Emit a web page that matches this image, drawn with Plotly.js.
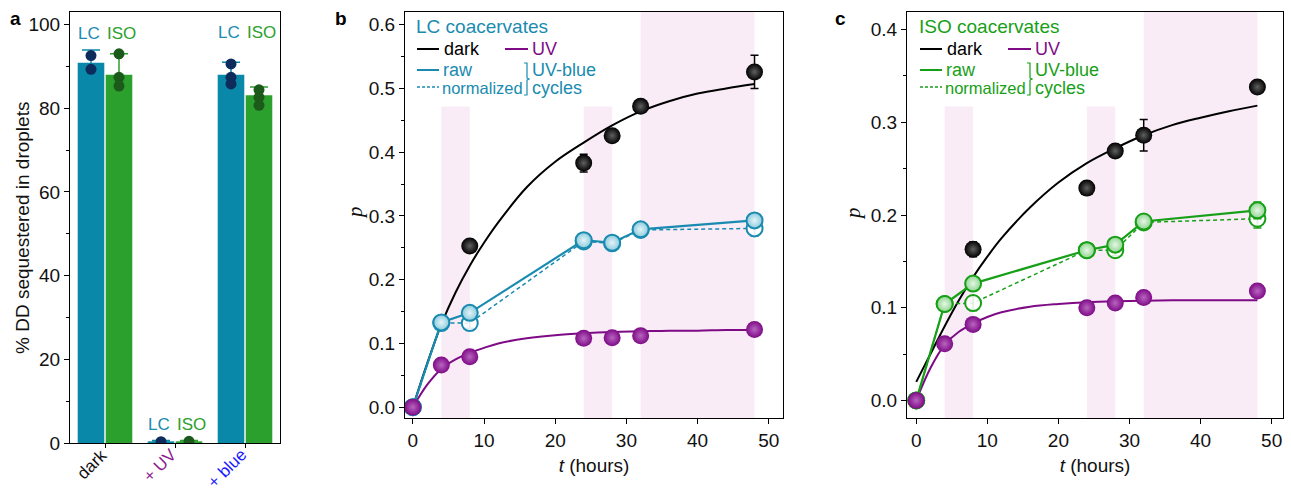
<!DOCTYPE html>
<html><head><meta charset="utf-8">
<script src="https://cdn.plot.ly/plotly-3.0.1.min.js"></script>
<style>body{margin:0;background:#fff}#chart{width:1291px;height:490px}</style>
</head><body><div id="chart"></div>
<script>
// ---------- Panel a data ----------
const conditions = ['dark', '+ UV', '+ blue'];
const lcPercent = [90.9, 0.4, 88.0];
const isoPercent = [88.0, 0.4, 83.1];
const lcPercentErr = [3.0, 0.2, 3.0];
const isoPercentErr = [5.0, 0.2, 2.0];
const lcReplicates = [[92.6, 89.3], [0.3], [90.6, 87.4, 85.8]];
const isoReplicates = [[93.0, 87.4, 85.3], [0.4], [84.4, 82.6, 80.7]];

// ---------- Panels b/c data ----------
const tPoints = [0, 4, 8, 24, 28, 32, 48];
const tDark = [8, 24, 28, 32, 48];
const cycleStarts = [4, 24, 32];
const cycleEnds = [8, 28, 48];

const lcDark = [0.253, 0.383, 0.426, 0.472, 0.526];
const lcDarkErr = [0.004, 0.014, 0.006, 0.005, 0.026];
const lcUV = [0, 0.066, 0.079, 0.108, 0.109, 0.112, 0.122];
const lcUVErr = [0.002, 0.003, 0.003, 0.003, 0.003, 0.003, 0.003];
const lcRaw = [0, 0.133, 0.148, 0.262, 0.258, 0.279, 0.293];
const lcRawErr = [0, 0.004, 0.006, 0.006, 0.006, 0.008, 0.008];
const lcNorm = [0, 0.132, 0.132, 0.260, 0.257, 0.278, 0.2805];
const lcNormErr = [0, 0.004, 0.008, 0.006, 0.006, 0.007, 0.012];

const isoDark = [0.163, 0.229, 0.269, 0.286, 0.338];
const isoDarkErr = [0.008, 0.003, 0.004, 0.017, 0.003];
const isoUV = [0, 0.061, 0.082, 0.100, 0.105, 0.111, 0.118];
const isoUVErr = [0.002, 0.003, 0.003, 0.003, 0.003, 0.003, 0.003];
const isoRaw = [0, 0.104, 0.126, 0.162, 0.168, 0.193, 0.205];
const isoRawErr = [0, 0.004, 0.004, 0.004, 0.005, 0.007, 0.009];
const isoNorm = [0, 0.104, 0.105, 0.162, 0.162, 0.192, 0.196];
const isoNormErr = [0, 0.004, 0.008, 0.004, 0.006, 0.007, 0.01];

// fitted curves
const tFit = [0, 2, 4, 6, 8, 10, 12, 16, 20, 24, 28, 32, 36, 40, 44, 48];
const lcDarkFit = [0, 0.068, 0.13, 0.18, 0.222, 0.258, 0.29, 0.345, 0.385, 0.415, 0.442, 0.464, 0.480, 0.492, 0.500, 0.507];
const lcUVFit = [0, 0.035, 0.06, 0.075, 0.085, 0.093, 0.1, 0.108, 0.113, 0.116, 0.118, 0.119, 0.12, 0.12, 0.121, 0.121];
const isoDarkFit = [0.02, 0.05, 0.08, 0.108, 0.133, 0.155, 0.175, 0.208, 0.235, 0.256, 0.272, 0.286, 0.297, 0.305, 0.312, 0.318];
const isoUVFit = [0, 0.035, 0.06, 0.074, 0.083, 0.09, 0.095, 0.101, 0.104, 0.106, 0.107, 0.1075, 0.108, 0.108, 0.108, 0.108];

// ---------- styles ----------
const W = 1291, H = 490;
const FONT = 'Liberation Sans, Arial, sans-serif';
const TEAL = '#1a8bb0', TEALBAR = '#0a88aa', GREEN = '#17a017', GREENBAR = '#2ca02c';
const PURPLE = '#7e0a86', BLACK = '#000000';
const condColors = ['#111111', '#8a1a8f', '#1a1aff'];
const px = x => x / W, py = y => 1 - y / H;

const traces = [];

// Panel a bars
traces.push({type:'bar', x:[0,1,2], y:lcPercent, xaxis:'x', yaxis:'y', marker:{color:TEALBAR},
  error_y:{type:'data', array:lcPercentErr, color:TEALBAR, thickness:1.5, width:9}, showlegend:false, hoverinfo:'none'});
traces.push({type:'bar', x:[0,1,2], y:isoPercent, xaxis:'x', yaxis:'y', marker:{color:GREENBAR},
  error_y:{type:'data', array:isoPercentErr, color:GREENBAR, thickness:1.5, width:9}, showlegend:false, hoverinfo:'none'});
function repl(reps, off) {
  const xs = [], ys = [];
  reps.forEach((r, i) => r.forEach(v => { xs.push(i + off); ys.push(v); }));
  return {xs, ys};
}
const lcR = repl(lcReplicates, -0.2), isoR = repl(isoReplicates, 0.2);
traces.push({type:'scatter', mode:'markers', x:lcR.xs, y:lcR.ys, xaxis:'x', yaxis:'y', marker:{color:'#0d2c5c', size:11}, showlegend:false});
traces.push({type:'scatter', mode:'markers', x:isoR.xs, y:isoR.ys, xaxis:'x', yaxis:'y', marker:{color:'#1b5a1b', size:11}, showlegend:false});

// Panels b and c
function timePanel(xa, ya, dark, darkErr, uv, uvErr, raw, rawErr, norm, normErr, darkFit, uvFit, col, fill, grad) {
  traces.push({type:'scatter', mode:'lines', x:tFit, y:darkFit, xaxis:xa, yaxis:ya, line:{color:BLACK, width:2, shape:'spline'}, showlegend:false});
  traces.push({type:'scatter', mode:'lines', x:tFit, y:uvFit, xaxis:xa, yaxis:ya, line:{color:PURPLE, width:2, shape:'spline'}, showlegend:false});
  traces.push({type:'scatter', mode:'lines+markers', x:tPoints, y:norm, xaxis:xa, yaxis:ya,
    line:{color:col, width:1.5, dash:'4px,3px'},
    marker:{symbol:'circle', size:16, color:'rgba(255,255,255,0.85)', line:{color:col, width:2}},
    error_y:{type:'data', array:normErr, color:col, thickness:1.5, width:4}, showlegend:false});
  traces.push({type:'scatter', mode:'lines+markers', x:tPoints, y:raw, xaxis:xa, yaxis:ya,
    line:{color:col, width:2.2},
    marker:{symbol:'circle', size:16, color:fill, gradient:{type:'radial', color:grad}, line:{color:col, width:2}},
    error_y:{type:'data', array:rawErr, color:col, thickness:1.5, width:4}, showlegend:false});
  traces.push({type:'scatter', mode:'markers', x:tPoints, y:uv, xaxis:xa, yaxis:ya,
    marker:{size:17, color:PURPLE, gradient:{type:'radial', color:'#b865bf'}},
    error_y:{type:'data', array:uvErr, color:'#ffffff', thickness:1.2, width:3}, showlegend:false});
  traces.push({type:'scatter', mode:'markers', x:tDark, y:dark, xaxis:xa, yaxis:ya,
    marker:{size:17, color:BLACK, gradient:{type:'radial', color:'#606060'}},
    error_y:{type:'data', array:darkErr, color:BLACK, thickness:1.5, width:4}, showlegend:false});
}
timePanel('x2', 'y2', lcDark, lcDarkErr, lcUV, lcUVErr, lcRaw, lcRawErr, lcNorm, lcNormErr, lcDarkFit, lcUVFit, TEAL, '#8ccbdc', '#e4f4f9');
timePanel('x3', 'y3', isoDark, isoDarkErr, isoUV, isoUVErr, isoRaw, isoRawErr, isoNorm, isoNormErr, isoDarkFit, isoUVFit, GREEN, '#8fd58f', '#e6f7e6');

// ---------- layout ----------
const tickFont = {family:FONT, size:19, color:'#111'};
const baseAxis = {showgrid:false, zeroline:false, showline:true, linecolor:'#000', linewidth:1, mirror:true,
  ticks:'outside', ticklen:5, tickwidth:1, tickcolor:'#000', tickfont:tickFont};

const shapes = [];
const annotations = [];
cycleStarts.forEach((s, i) => {
  shapes.push({type:'rect', xref:'x2', yref:'y2 domain', x0:s, x1:cycleEnds[i], y0:0, y1:i < 2 ? 0.767 : 1,
    fillcolor:'#f9ecf6', line:{width:0}, layer:'below'});
  shapes.push({type:'rect', xref:'x3', yref:'y3 domain', x0:s, x1:cycleEnds[i], y0:0, y1:i < 2 ? 0.767 : 1,
    fillcolor:'#f9ecf6', line:{width:0}, layer:'below'});
});

function ann(text, x, y, color, size, extra) {
  annotations.push(Object.assign({text, xref:'paper', yref:'paper', x:px(x), y:py(y), xanchor:'left', yanchor:'middle',
    showarrow:false, font:{family:FONT, size, color}, borderpad:0}, extra || {}));
}
function hline(x0, x1, y, color, dash) {
  shapes.push({type:'line', xref:'paper', yref:'paper', x0:px(x0), x1:px(x1), y0:py(y), y1:py(y),
    line:{color, width:2, dash:dash || 'solid'}});
}
function legendBlock(ox, title, col) {
  ann(title, ox + 415, 27, col, 19);
  hline(ox + 417, ox + 439, 49, BLACK);
  ann('dark', ox + 443, 49, '#000', 18);
  hline(ox + 505, ox + 528, 49, PURPLE);
  ann('UV', ox + 531, 49, PURPLE, 18);
  hline(ox + 417, ox + 439, 70, col);
  ann('raw', ox + 442, 70, col, 18);
  shapes.push({type:'line', xref:'paper', yref:'paper', x0:px(ox + 417), x1:px(ox + 439), y0:py(87), y1:py(87),
    line:{color:col, width:1.3, dash:'3px,2px'}});
  ann('normalized', ox + 441, 88, col, 16.5);
  const bx = ox + 527;
  shapes.push({type:'path', xref:'paper', yref:'paper',
    path:`M ${px(bx-3)},${py(63)} L ${px(bx)},${py(63)} L ${px(bx)},${py(78)} L ${px(bx+2)},${py(79)} L ${px(bx)},${py(80)} L ${px(bx)},${py(95)} L ${px(bx-3)},${py(95)}`,
    line:{color:col, width:1.2}});
  ann('UV-blue', ox + 531, 70, col, 18);
  ann('cycles', ox + 531, 88, col, 18);
}
legendBlock(0, 'LC coacervates', TEAL);
legendBlock(503, 'ISO coacervates', GREEN);

// panel letters
ann('<b>a</b>', 9, 18, '#000', 19);
ann('<b>b</b>', 334, 18, '#000', 19);
ann('<b>c</b>', 834, 18, '#000', 19);

// axis titles placed as rotated text
ann('% DD sequestered in droplets', 22, 228, '#111', 19, {xanchor:'center', textangle:-90});
annotations.push({text:'<i>p</i>', xref:'paper', yref:'paper', x:px(355), y:py(213), xanchor:'center', yanchor:'middle',
  showarrow:false, textangle:-90, font:{family:'Liberation Serif, serif', size:21, color:'#111'}});
annotations.push({text:'<i>p</i>', xref:'paper', yref:'paper', x:px(853), y:py(213), xanchor:'center', yanchor:'middle',
  showarrow:false, textangle:-90, font:{family:'Liberation Serif, serif', size:21, color:'#111'}});

// LC / ISO labels in panel a
const labelY = [97.9, 4.4, 98.2];
conditions.forEach((c, i) => {
  annotations.push({text:'LC', xref:'x', yref:'y', x:i - 0.23, y:labelY[i], showarrow:false, font:{family:FONT, size:17, color:TEAL}});
  annotations.push({text:'ISO', xref:'x', yref:'y', x:i + 0.235, y:labelY[i], showarrow:false, font:{family:FONT, size:17, color:GREENBAR}});
});

// rotated category labels of panel a (drawn as annotations so they stay inside the canvas)
conditions.forEach((c, i) => {
  annotations.push({text:c, xref:'x', yref:'paper', x:i + 0.1, y:py(444), xanchor:'right', yanchor:'top',
    textangle:-45, showarrow:false, borderpad:0, font:{family:FONT, size:17, color:condColors[i]}});
});

const layout = {
  width:W, height:H, margin:{l:0, r:0, t:0, b:0}, paper_bgcolor:'#fff', plot_bgcolor:'rgba(0,0,0,0)',
  showlegend:false, barmode:'group', bargap:0.2, bargroupgap:0.05,
  font:{family:FONT, size:18, color:'#111'},
  xaxis: Object.assign({}, baseAxis, {domain:[px(70), px(280)], anchor:'y', range:[-0.5, 2.5],
    tickmode:'array', tickvals:[0,1,2], ticktext:conditions, showticklabels:false, ticklen:4}),
  yaxis: Object.assign({}, baseAxis, {domain:[py(443), py(12)], anchor:'x', range:[0, 103],
    tickmode:'linear', tick0:0, dtick:20, minor:{ticks:'outside', ticklen:3, dtick:10, tickcolor:'#000'}}),
  xaxis2: Object.assign({}, baseAxis, {domain:[px(405), px(783)], anchor:'y2', range:[-1.1, 52.0], dtick:10,
    title:{text:'<i>t</i> (hours)', font:{family:FONT, size:19, color:'#111'}, standoff:8}}),
  yaxis2: Object.assign({}, baseAxis, {domain:[py(418), py(12)], anchor:'x2', range:[-0.017, 0.62], dtick:0.1, tickformat:'.1f',
    minor:{ticks:'outside', ticklen:3, dtick:0.05, tickcolor:'#000'}}),
  xaxis3: Object.assign({}, baseAxis, {domain:[px(907), px(1283)], anchor:'y3', range:[-1.3, 51.6], dtick:10,
    title:{text:'<i>t</i> (hours)', font:{family:FONT, size:19, color:'#111'}, standoff:8}}),
  yaxis3: Object.assign({}, baseAxis, {domain:[py(418), py(12)], anchor:'x3', range:[-0.019, 0.419], dtick:0.1, tickformat:'.1f',
    minor:{ticks:'outside', ticklen:3, dtick:0.05, tickcolor:'#000'}}),
  shapes, annotations
};

Plotly.newPlot('chart', traces, layout, {staticPlot:true, displayModeBar:false});
</script>
</body></html>
